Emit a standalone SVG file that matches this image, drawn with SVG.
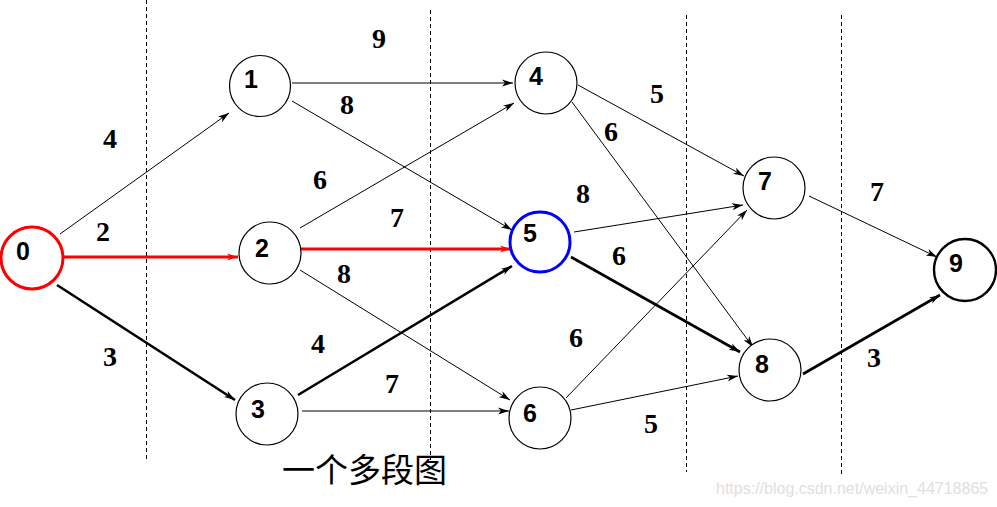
<svg xmlns="http://www.w3.org/2000/svg" width="997" height="507" viewBox="0 0 997 507">
<defs>
<marker id="ah" markerWidth="12" markerHeight="8" refX="11" refY="4" orient="auto" markerUnits="userSpaceOnUse"><path d="M0,0.5 L11,4 L0,7.5 L3,4 Z" fill="#000"/></marker>
<marker id="ahr" markerWidth="12" markerHeight="8" refX="11" refY="4" orient="auto" markerUnits="userSpaceOnUse"><path d="M0,0.5 L11,4 L0,7.5 L3,4 Z" fill="#f00"/></marker>
<style>
.n{fill:#fff;stroke:#000;stroke-width:1.2}
.nl{font-family:"Liberation Sans",Arial,sans-serif;font-weight:bold;font-size:25px;fill:#000}
.w{font-family:"Liberation Serif","Times New Roman",serif;font-weight:bold;font-size:28px;fill:#000}
.e{fill:none;stroke:#000;stroke-width:1;marker-end:url(#ah)}
.t{fill:none;stroke:#000;stroke-width:2.6;marker-end:url(#ah)}
.r{fill:none;stroke:#f00;stroke-width:3;marker-end:url(#ahr)}
.d{stroke:#000;stroke-width:1;stroke-dasharray:4,3}
</style>
</defs>
<rect width="997" height="507" fill="#fff"/>
<g id="dividers">
<line class="d" x1="146.5" y1="0" x2="146.5" y2="460"/>
<line class="d" x1="430.5" y1="10" x2="430.5" y2="460"/>
<line class="d" x1="686.5" y1="15" x2="686.5" y2="472"/>
<line class="d" x1="841.5" y1="15" x2="841.5" y2="474"/>
</g>
<g id="connectors">
<line class="e" x1="60" y1="234" x2="229" y2="113"/>
<line class="r" x1="63" y1="257" x2="238" y2="257"/>
<line class="t" x1="57" y1="285" x2="235" y2="400"/>
<line class="e" x1="292" y1="83" x2="513" y2="83"/>
<line class="e" x1="292" y1="101" x2="512" y2="230"/>
<line class="e" x1="300" y1="228" x2="514" y2="103"/>
<line class="r" x1="300" y1="249" x2="511" y2="249"/>
<line class="e" x1="300" y1="270" x2="510" y2="400"/>
<line class="t" x1="298" y1="395" x2="512" y2="266"/>
<line class="e" x1="302" y1="411" x2="509" y2="411"/>
<line class="e" x1="578" y1="85" x2="744" y2="176"/>
<line class="e" x1="572" y1="102" x2="753" y2="347"/>
<line class="e" x1="574" y1="232" x2="743" y2="205"/>
<line class="t" x1="571" y1="257" x2="740" y2="352"/>
<line class="e" x1="566" y1="398" x2="747" y2="210"/>
<line class="e" x1="571" y1="410" x2="738" y2="376"/>
<line class="e" x1="809" y1="196" x2="937" y2="257"/>
<line class="t" x1="803" y1="374" x2="940" y2="295"/>
</g>
<g id="weights">
<text class="w" x="379" y="48" text-anchor="middle">9</text>
<text class="w" x="110" y="148" text-anchor="middle">4</text>
<text class="w" x="103" y="241" text-anchor="middle">2</text>
<text class="w" x="110" y="366" text-anchor="middle">3</text>
<text class="w" x="347" y="114" text-anchor="middle">8</text>
<text class="w" x="320" y="189" text-anchor="middle">6</text>
<text class="w" x="397" y="227" text-anchor="middle">7</text>
<text class="w" x="344" y="283" text-anchor="middle">8</text>
<text class="w" x="318" y="353" text-anchor="middle">4</text>
<text class="w" x="392" y="393" text-anchor="middle">7</text>
<text class="w" x="657" y="103" text-anchor="middle">5</text>
<text class="w" x="611" y="141" text-anchor="middle">6</text>
<text class="w" x="583" y="203" text-anchor="middle">8</text>
<text class="w" x="619" y="265" text-anchor="middle">6</text>
<text class="w" x="576" y="347" text-anchor="middle">6</text>
<text class="w" x="651" y="433" text-anchor="middle">5</text>
<text class="w" x="877" y="201" text-anchor="middle">7</text>
<text class="w" x="874" y="367" text-anchor="middle">3</text>
</g>
<g id="node0"><circle cx="32" cy="258" r="31" fill="#fff" stroke="#f00" stroke-width="3"/><text class="nl" x="23" y="260" text-anchor="middle">0</text></g>
<g id="node1"><circle class="n" cx="260" cy="86" r="30.5"/><text class="nl" x="251" y="88" text-anchor="middle">1</text></g>
<g id="node2"><circle class="n" cx="270" cy="253" r="31"/><text class="nl" x="262" y="257" text-anchor="middle">2</text></g>
<g id="node3"><circle class="n" cx="267" cy="414" r="31"/><text class="nl" x="258" y="418" text-anchor="middle">3</text></g>
<g id="node4"><circle class="n" cx="546" cy="83" r="31"/><text class="nl" x="536" y="85" text-anchor="middle">4</text></g>
<g id="node5"><circle cx="540" cy="242" r="30" fill="#fff" stroke="#00f" stroke-width="3"/><text class="nl" x="530" y="242" text-anchor="middle">5</text></g>
<g id="node6"><circle class="n" cx="540" cy="418" r="31"/><text class="nl" x="530" y="422" text-anchor="middle">6</text></g>
<g id="node7"><circle class="n" cx="774" cy="188" r="31"/><text class="nl" x="765" y="190" text-anchor="middle">7</text></g>
<g id="node8"><circle class="n" cx="770" cy="370" r="31"/><text class="nl" x="762" y="373" text-anchor="middle">8</text></g>
<g id="node9"><circle cx="965" cy="270" r="31" fill="#fff" stroke="#000" stroke-width="2.4"/><text class="nl" x="956" y="272" text-anchor="middle">9</text></g>
<text x="282" y="482" font-family="'Noto Sans CJK SC',sans-serif" font-size="33" fill="#000">一个多段图</text>
<text x="716" y="494" font-family="'Liberation Sans',Arial,sans-serif" font-size="16" fill="#e0e0e0">https://blog.csdn.net/weixin_44718865</text>
</svg>
